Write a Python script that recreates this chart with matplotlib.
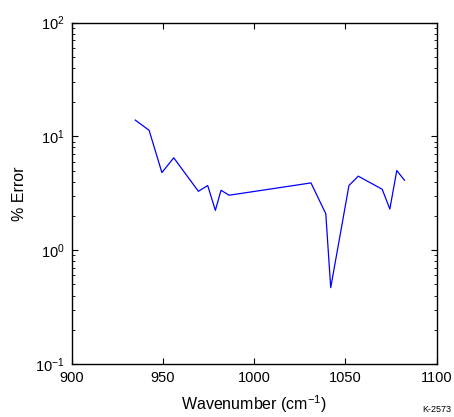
import matplotlib
matplotlib.use("Agg")
import matplotlib.pyplot as plt
from matplotlib.ticker import LogLocator, NullFormatter

plt.rcParams['font.family'] = ['Liberation Sans', 'DejaVu Sans']
plt.rcParams['mathtext.fontset'] = 'custom'
plt.rcParams['mathtext.rm'] = 'Liberation Sans'
plt.rcParams['mathtext.it'] = 'Liberation Sans:italic'

# wavenumber (cm^-1) vs percent error
wavenumber = [934.8, 942.4, 949.4, 955.9, 969.4, 974.5, 978.7, 981.8, 986.2,
              1031.1, 1039.2, 1041.9, 1051.9, 1057.0, 1070.1, 1074.3, 1078.1, 1082.3]
pct_error = [13.9, 11.3, 4.81, 6.48, 3.29, 3.70, 2.24, 3.36, 3.04,
             3.90, 2.09, 0.469, 3.70, 4.47, 3.43, 2.30, 5.01, 4.12]

fig = plt.figure(figsize=(4.54, 4.17), dpi=100)
ax = fig.add_axes([0.158, 0.127, 0.804, 0.819])

ax.plot(wavenumber, pct_error, color='#0000ff', linewidth=0.9)

ax.set_yscale('log')
ax.set_xlim(900, 1100)
ax.set_ylim(0.1, 100)
ax.set_xticks([900, 950, 1000, 1050, 1100])
ax.yaxis.set_major_locator(LogLocator(base=10, numticks=10))
ax.yaxis.set_minor_locator(LogLocator(base=10, subs=range(2, 10), numticks=10))
ax.yaxis.set_minor_formatter(NullFormatter())

ax.tick_params(which='both', direction='in', top=True, right=True, labelsize=10.5, pad=5)
ax.tick_params(which='major', length=4, width=0.8)
ax.tick_params(which='minor', length=2, width=0.6)
for s in ax.spines.values():
    s.set_linewidth(1.0)

ax.set_xlabel('Wavenumber (cm$^{-1}$)', fontsize=11.5, labelpad=6)
ax.set_ylabel('% Error', fontsize=11.5, labelpad=6)

fig.text(0.995, 0.008, 'K-2573', fontsize=6.5, ha='right', va='bottom')

fig.savefig('out.png', dpi=100)
